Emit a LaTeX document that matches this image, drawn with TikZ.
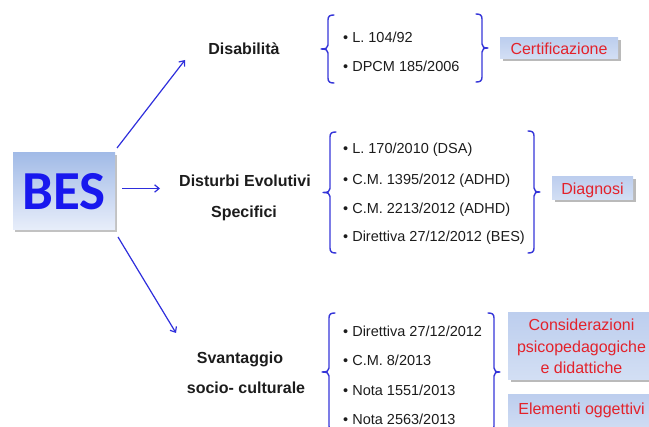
\documentclass[tikz,border=0pt]{standalone}
\usepackage{fontspec}
\setmainfont{Liberation Sans}
\newfontfamily\besfont{Carlito}
\usetikzlibrary{arrows.meta,calc,shadows}
\definecolor{arrowblue}{HTML}{2E2EDC}
\definecolor{braceblue}{HTML}{3535D8}
\definecolor{besblue}{HTML}{1818EE}
\definecolor{redtxt}{HTML}{E3222B}
\definecolor{boxtop}{HTML}{BDCEEE}
\definecolor{boxbot}{HTML}{D3DFF4}
\definecolor{bestop}{HTML}{A2BBE7}
\definecolor{besbot}{HTML}{E8EEFA}
\definecolor{txt}{HTML}{1C1C1C}
\tikzset{
  conn/.style={draw=arrowblue, line width=1.2pt, -{Straight Barb[length=4.5pt,width=7.5pt]}},
  lbr/.style={draw=braceblue, line width=1.4pt, line cap=round, to path={
    let \p1=(\tikztostart), \p2=(\tikztotarget), \p3=($(\tikztostart)!0.5!(\tikztotarget)$) in
    (\x1+6pt,\y1) .. controls (\x1+2pt,\y1) and (\x1,\y1-1pt) .. (\x1,\y1-5pt)
    -- (\x1,\y3+4pt) .. controls (\x1,\y3+1pt) and (\x1-2pt,\y3) .. (\x1-7pt,\y3)
    (\x1-7pt,\y3) .. controls (\x1-2pt,\y3) and (\x1,\y3-1pt) .. (\x1,\y3-4pt)
    -- (\x1,\y2+5pt) .. controls (\x1,\y2+1pt) and (\x1+2pt,\y2) .. (\x1+6pt,\y2)}},
  rbr/.style={draw=braceblue, line width=1.4pt, line cap=round, to path={
    let \p1=(\tikztostart), \p2=(\tikztotarget), \p3=($(\tikztostart)!0.5!(\tikztotarget)$) in
    (\x1-6pt,\y1) .. controls (\x1-2pt,\y1) and (\x1,\y1-1pt) .. (\x1,\y1-5pt)
    -- (\x1,\y3+4pt) .. controls (\x1,\y3+1pt) and (\x1+2pt,\y3) .. (\x1+6pt,\y3)
    (\x1+6pt,\y3) .. controls (\x1+2pt,\y3) and (\x1,\y3-1pt) .. (\x1,\y3-4pt)
    -- (\x1,\y2+5pt) .. controls (\x1,\y2+1pt) and (\x1-2pt,\y2) .. (\x1-6pt,\y2)}},
  item/.style={anchor=base west, font=\fontsize{14.5}{16}\selectfont, text=txt, inner sep=0pt},
  cat/.style={anchor=base, font=\fontsize{16}{19}\selectfont\bfseries, text=txt, inner sep=0pt},
  tagbox/.style={rectangle, inner sep=0pt, top color=boxtop, bottom color=boxbot, draw=none,
    drop shadow={shadow xshift=2.5pt, shadow yshift=-2.5pt, fill=black!45, opacity=0.6},
    text=redtxt, font=\fontsize{16}{21.7}\selectfont, align=center,
    text height=11.5pt, text depth=0pt},
  besbox/.style={rectangle, inner sep=0pt, minimum width=102pt, minimum height=77pt,
    top color=bestop, bottom color=besbot, draw=none,
    drop shadow={shadow xshift=1.5pt, shadow yshift=-2.5pt, fill=black!40, opacity=0.6},
    text=besblue, font=\besfont\bfseries\fontsize{55}{55}\selectfont}
}
\begin{document}
\begin{tikzpicture}[x=1pt,y=-1pt]
\useasboundingbox (0,0) rectangle (649,427);
\clip (0,0) rectangle (649,427);

% main box
\node[besbox] (bes) at (64,191.5) {BES};

% categories
\node[cat] (dis) at (244,55) {Disabilità};
\node[cat] (dsa1) at (245,186.5) {Disturbi Evolutivi};
\node[cat] (dsa2) at (244,218) {Specifici};
\node[cat] (sv1) at (240,363.5) {Svantaggio};
\node[cat] (sv2) at (246,393.5) {socio- culturale};

% arrow end points
\coordinate (a1s) at (117,148);
\coordinate (a1e) at (185,60);
\coordinate (a2s) at (122,188.5);
\coordinate (a2e) at (160,188.5);
\coordinate (a3s) at (118,237);
\coordinate (a3e) at (176,333);
\draw[conn] (a1s) -- (a1e);
\draw[conn] (a2s) -- (a2e);
\draw[conn] (a3s) -- (a3e);

% braces
\coordinate (b1lt) at (328,15);  \coordinate (b1lb) at (328,83);
\coordinate (b1rt) at (482,14);  \coordinate (b1rb) at (482,82);
\coordinate (b2lt) at (330,132); \coordinate (b2lb) at (330,253);
\coordinate (b2rt) at (534,131); \coordinate (b2rb) at (534,253);
\coordinate (b3lt) at (329,313); \coordinate (b3lb) at (329,431);
\coordinate (b3rt) at (494,313); \coordinate (b3rb) at (494,431);
\draw[lbr] (b1lt) to (b1lb);
\draw[rbr] (b1rt) to (b1rb);
\draw[lbr] (b2lt) to (b2lb);
\draw[rbr] (b2rt) to (b2rb);
\draw[lbr] (b3lt) to (b3lb);
\draw[rbr] (b3rt) to (b3rb);

% items
\node[item] (i11) at (343,42.5) {• L. 104/92};
\node[item] (i12) at (343,71.5) {• DPCM 185/2006};
\node[item] (i21) at (343,154) {• L. 170/2010 (DSA)};
\node[item] (i22) at (343,184.5) {• C.M. 1395/2012 (ADHD)};
\node[item] (i23) at (343,214) {• C.M. 2213/2012 (ADHD)};
\node[item] (i24) at (343,241.5) {• Direttiva 27/12/2012 (BES)};
\node[item] (i31) at (343,336.5) {• Direttiva 27/12/2012};
\node[item] (i32) at (343,366) {• C.M. 8/2013};
\node[item] (i33) at (343,396) {• Nota 1551/2013};
\node[item] (i34) at (343,425) {• Nota 2563/2013};

% tag boxes
\node[tagbox, minimum width=118pt, minimum height=21pt] (cert) at (559,48.5) {Certificazione};
\node[tagbox, minimum width=81pt, minimum height=23pt] (diag) at (592.5,188.5) {Diagnosi};
\node[tagbox, minimum width=147pt, minimum height=67pt, text height=, text depth=] (cons) at (581.5,346.5)
  {Considerazioni\\psicopedagogiche\\e didattiche};
\node[tagbox, minimum width=147pt, minimum height=40pt, text depth=11.5pt] (elem) at (581.5,415) {Elementi oggettivi};
\end{tikzpicture}
\end{document}
